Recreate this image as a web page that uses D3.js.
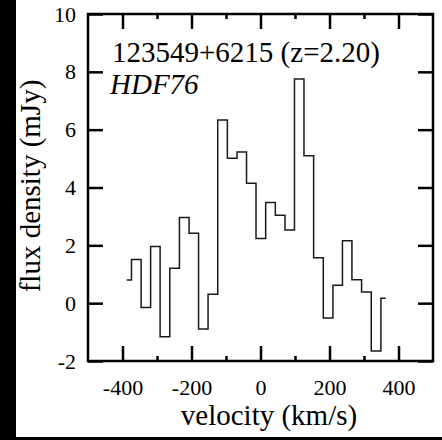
<!DOCTYPE html>
<html>
<head>
<meta charset="utf-8">
<script src="https://cdn.jsdelivr.net/npm/d3@7"></script>
<style>
  body { margin: 0; background: #fff; }
  svg { display: block; }
</style>
</head>
<body>
<svg id="chart"></svg>
<script>
// line profile
var velocity = [-388, -360, -332, -305, -277, -249, -221, -193, -166, -138, -110, -82, -54, -27,
                1, 29, 57, 85, 112, 140, 168, 196, 224, 251, 279, 307, 335, 363]
var flux = [0.80, 1.51, -0.15, 1.96, -1.16, 1.21, 2.96, 2.42, -0.89, 0.31, 6.33, 5.01, 5.23, 4.15,
            2.24, 3.48, 3.04, 2.53, 7.75, 5.10, 1.57, -0.51, 0.62, 2.16, 0.81, 0.39, -1.65, 0.17]

var xMajor = [-400, -200, 0, 200, 400]
var xMinor = [-300, -100, 100, 300]
var yMajor = [-2, 0, 2, 4, 6, 8, 10]

var width = 442, height = 440
var margin = {top: 14, right: 9, bottom: 79, left: 88}
var serif = "'Liberation Serif', 'Times New Roman', Tinos"

var svg = d3.select("#chart")
    .attr("width", width)
    .attr("height", height)

// dark strips at left and bottom edge
svg.append("rect").attr("x", 0).attr("y", 0).attr("width", 16).attr("height", height).attr("fill", "#000")
svg.append("rect").attr("x", 0).attr("y", 437).attr("width", width).attr("height", 3).attr("fill", "#000")

var xScale = d3.scaleLinear()
    .domain([-500, 500])
    .range([margin.left, width - margin.right])

var yScale = d3.scaleLinear()
    .domain([-2, 10])
    .range([height - margin.bottom, margin.top])

var data = velocity.map((v, i) => ({v: v, f: flux[i]}))

var line = d3.line()
    .x(d => xScale(d.v))
    .y(d => yScale(d.f))
    .curve(d3.curveStep)

svg.append("path")
    .datum(data)
    .attr("fill", "none")
    .attr("stroke", "#1a1a1a")
    .attr("stroke-width", 1.5)
    .attr("d", line)

function styleAxis(g) {
    g.attr("font-family", serif).attr("font-size", 22)
    g.select(".domain").remove()
    g.selectAll(".tick line").attr("stroke", "#000").attr("stroke-width", 2.5)
    g.selectAll(".tick text").attr("fill", "#000")
}

var plain = d => String(d)
var bottom = height - margin.bottom
var right = width - margin.right

svg.append("g")
    .attr("transform", "translate(0," + bottom + ")")
    .call(d3.axisBottom(xScale).tickValues(xMajor).tickSize(-15).tickPadding(18).tickFormat(plain))
    .call(styleAxis)
svg.append("g")
    .attr("transform", "translate(0," + bottom + ")")
    .call(d3.axisBottom(xScale).tickValues(xMinor).tickSize(-5).tickFormat(""))
    .call(styleAxis)
svg.append("g")
    .attr("transform", "translate(0," + margin.top + ")")
    .call(d3.axisTop(xScale).tickValues(xMajor).tickSize(-15).tickFormat(""))
    .call(styleAxis)
svg.append("g")
    .attr("transform", "translate(0," + margin.top + ")")
    .call(d3.axisTop(xScale).tickValues(xMinor).tickSize(-5).tickFormat(""))
    .call(styleAxis)

svg.append("g")
    .attr("transform", "translate(" + margin.left + ",0)")
    .call(d3.axisLeft(yScale).tickValues(yMajor).tickSize(-15).tickPadding(12).tickFormat(plain))
    .call(styleAxis)
svg.append("g")
    .attr("transform", "translate(" + right + ",0)")
    .call(d3.axisRight(yScale).tickValues(yMajor).tickSize(-15).tickFormat(""))
    .call(styleAxis)

// frame
svg.append("rect")
    .attr("x", margin.left)
    .attr("y", margin.top)
    .attr("width", right - margin.left)
    .attr("height", bottom - margin.top)
    .attr("fill", "none")
    .attr("stroke", "#000")
    .attr("stroke-width", 2.5)

function label(t) {
    return t.attr("font-family", serif).attr("font-size", 29).attr("fill", "#000")
}

svg.append("text")
    .attr("x", 269)
    .attr("y", 425)
    .attr("text-anchor", "middle")
    .call(label)
    .text("velocity (km/s)")

svg.append("text")
    .attr("transform", "translate(40,186) rotate(-90)")
    .attr("text-anchor", "middle")
    .call(label)
    .text("flux density (mJy)")

svg.append("text")
    .attr("x", 112)
    .attr("y", 62)
    .call(label)
    .text("123549+6215 (z=2.20)")

svg.append("text")
    .attr("x", 110)
    .attr("y", 94)
    .call(label)
    .attr("font-style", "italic")
    .text("HDF76")
</script>
</body>
</html>
